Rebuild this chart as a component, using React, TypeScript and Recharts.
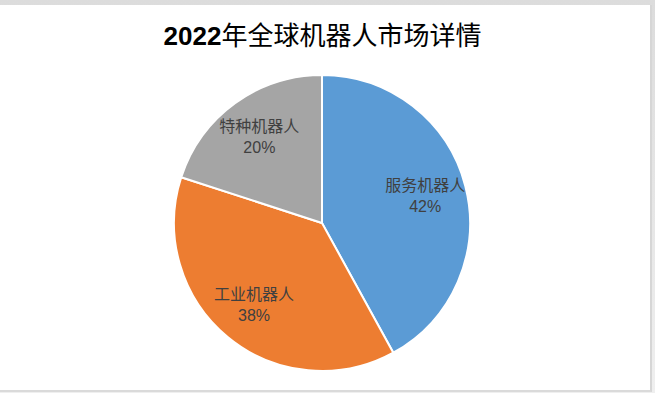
import React from 'react'
import { PieChart, Pie, Cell } from 'recharts'

// 2022 global robot market share
const categories = ['服务机器人', '工业机器人', '特种机器人']
const shares = [42, 38, 20]
const colors = ['#5B9BD5', '#ED7D31', '#A5A5A5']
const title = ['2022', '年全球机器人市场详情']

const data = categories.map((name, i) => ({ name, value: shares[i] }))

const RADIAN = Math.PI / 180

const renderLabel = (props: any) => {
  const { cx, cy, midAngle, outerRadius, name, value } = props
  const r = outerRadius * 0.72
  const x = cx + r * Math.cos(-midAngle * RADIAN)
  const y = cy + r * Math.sin(-midAngle * RADIAN)
  return (
    <text
      x={x}
      y={y}
      fill="#404040"
      fontSize={16}
      fontFamily="'Liberation Sans', 'Noto Sans CJK SC', sans-serif"
      textAnchor="middle"
    >
      <tspan x={x} dy={-5}>{name}</tspan>
      <tspan x={x} dy={21}>{value}%</tspan>
    </text>
  )
}

export default function App() {
  return (
    <div
      style={{
        position: 'absolute',
        left: 0,
        top: 0,
        width: 655,
        height: 393,
        background: 'linear-gradient(#dcdcdc, #efefef)',
        overflow: 'hidden',
      }}
    >
      <div
        style={{
          position: 'absolute',
          left: 0,
          top: 5,
          width: 650,
          height: 385,
          background: '#fff',
          borderRight: '2px solid #d6d6d6',
          borderBottom: '2px solid #dadada',
        }}
      >
        <div
          style={{
            position: 'absolute',
            left: 0,
            top: 12,
            width: 645,
            textAlign: 'center',
            fontSize: 26,
            lineHeight: '34px',
            color: '#000',
            fontFamily: "'Liberation Sans', 'Noto Sans CJK SC', sans-serif",
          }}
        >
          <span style={{ fontWeight: 'bold' }}>{title[0]}</span>
          <span style={{ fontFamily: "'Noto Sans CJK SC', sans-serif" }}>{title[1]}</span>
        </div>
        <div style={{ position: 'absolute', left: 0, top: -5 }}>
          <PieChart width={655} height={393} margin={{ top: 0, right: 0, bottom: 0, left: 0 }}>
            <Pie
              data={data}
              dataKey="value"
              nameKey="name"
              cx={322}
              cy={223}
              outerRadius={148}
              startAngle={90}
              endAngle={-270}
              stroke="#fff"
              strokeWidth={2}
              label={renderLabel}
              labelLine={false}
              isAnimationActive={false}
            >
              {data.map((d, i) => (
                <Cell key={d.name} fill={colors[i]} />
              ))}
            </Pie>
          </PieChart>
        </div>
      </div>
    </div>
  )
}
